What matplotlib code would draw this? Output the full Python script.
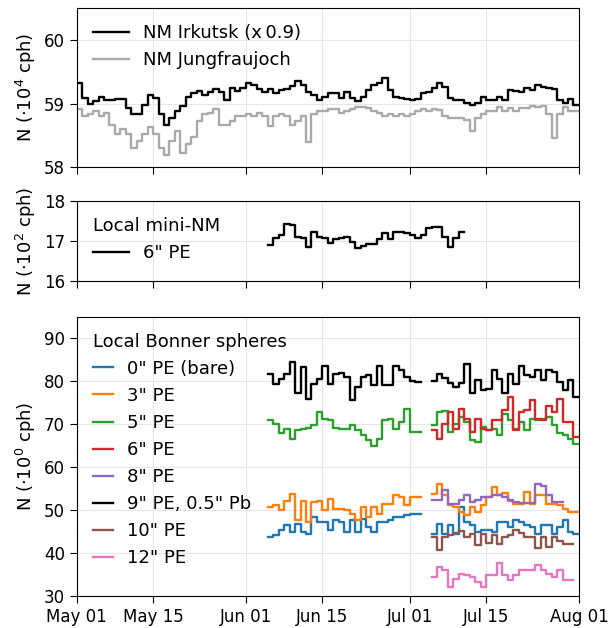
import datetime as dt

import numpy as np
import matplotlib
matplotlib.use("Agg")
import matplotlib.pyplot as plt
import matplotlib.dates as mdates

START = dt.datetime(2019, 5, 1)
END = dt.datetime(2019, 8, 1)

# daily values, panel 1 (starting May 01)
irkutsk = [59.32, 59.09, 59.0, 59.04, 59.1, 59.06, 59.05, 59.07, 59.07, 58.93,
           58.83, 58.83, 58.98, 59.14, 59.09, 58.83, 58.67, 58.78, 58.88, 58.96,
           59.11, 59.17, 59.2, 59.14, 59.19, 59.23, 59.19, 59.06, 59.24, 59.2,
           59.24, 59.32, 59.29, 59.23, 59.19, 59.23, 59.17, 59.22, 59.23, 59.27,
           59.35, 59.29, 59.19, 59.14, 59.05, 59.11, 59.17, 59.17, 59.09, 59.19,
           59.09, 59.04, 59.11, 59.22, 59.29, 59.32, 59.4, 59.22, 59.11, 59.09,
           59.08, 59.06, 59.08, 59.17, 59.19, 59.24, 59.32, 59.26, 59.09, 59.06,
           59.05, 59.01, 58.98, 59.01, 59.11, 59.06, 59.06, 59.11, 59.06, 59.22,
           59.2, 59.19, 59.24, 59.22, 59.3, 59.26, 59.24, 59.23, 59.06, 59.01,
           59.08, 58.98]
jungfraujoch = [58.91, 58.8, 58.83, 58.88, 58.8, 58.85, 58.67, 58.52, 58.6, 58.52,
                58.31, 58.41, 58.52, 58.63, 58.52, 58.31, 58.2, 58.41, 58.57, 58.23,
                58.36, 58.47, 58.72, 58.83, 58.85, 58.91, 58.67, 58.67, 58.72, 58.8,
                58.8, 58.83, 58.8, 58.85, 58.8, 58.65, 58.8, 58.83, 58.8, 58.67,
                58.72, 58.8, 58.39, 58.83, 58.88, 58.88, 58.91, 58.91, 58.85, 58.88,
                58.91, 58.94, 58.94, 58.93, 58.88, 58.85, 58.8, 58.83, 58.8, 58.84,
                58.8, 58.84, 58.88, 58.91, 58.88, 58.91, 58.9, 58.8, 58.78, 58.78,
                58.78, 58.75, 58.57, 58.78, 58.83, 58.88, 58.88, 58.94, 58.88, 58.93,
                58.88, 58.93, 58.93, 58.96, 58.94, 58.96, 58.83, 58.46, 58.83, 58.94,
                58.88, 58.88]

# panel 2, starts Jun 05
mini_nm_start = 35
mini_nm = [16.9, 17.07, 17.15, 17.42, 17.4, 17.1, 17.08, 16.86, 17.22, 17.1,
           17.08, 16.96, 17.04, 17.07, 17.09, 16.97, 16.83, 16.87, 16.92, 16.92,
           17.04, 17.19, 17.05, 17.23, 17.23, 17.19, 17.15, 17.07, 17.15, 17.32,
           17.36, 17.36, 17.1, 16.86, 17.08, 17.22]

# panel 3, two measurement periods
seg1_start = 35
seg2_start = 65
bs_labels = ['0" PE (bare)', '3" PE', '5" PE', '6" PE', '8" PE',
             '9" PE, 0.5" Pb', '10" PE', '12" PE']
bs_colors = ["tab:blue", "tab:orange", "tab:green", "tab:red", "tab:purple",
             "black", "tab:brown", "tab:pink"]

bs_seg1 = {
    '0" PE (bare)': [43.7, 44.1, 45.3, 46.4, 44.9, 46.8, 44.9, 44.5, 48.4, 47.2,
                     47.2, 45.3, 47.6, 47.2, 44.9, 47.6, 44.9, 48.0, 46.0, 44.9,
                     47.2, 47.2, 47.6, 48.4, 48.4, 48.8, 49.0, 49.0],
    '3" PE': [50.7, 51.1, 49.9, 52.2, 53.8, 47.6, 52.2, 47.2, 51.9, 52.2,
              49.9, 52.6, 50.3, 50.3, 49.9, 49.1, 47.6, 50.7, 48.4, 50.7,
              49.1, 51.5, 51.5, 53.4, 53.0, 51.1, 53.0, 53.0],
    '5" PE': [70.9, 70.1, 67.8, 68.9, 66.6, 68.5, 68.9, 69.1, 69.7, 72.8,
              71.2, 70.9, 69.1, 68.9, 68.9, 69.7, 68.7, 67.4, 66.2, 64.8,
              66.6, 70.9, 71.2, 68.9, 70.5, 73.6, 68.1, 68.1],
    '9" PE, 0.5" Pb': [81.7, 79.4, 80.5, 81.7, 84.4, 77.1, 83.3, 75.9, 79.4, 80.5,
                       83.6, 79.4, 81.7, 81.9, 80.9, 75.5, 78.6, 80.9, 81.3, 79.0,
                       83.6, 79.0, 79.0, 83.6, 82.5, 80.9, 80.0, 79.8],
}

bs_seg2 = {
    '0" PE (bare)': [44.5, 46.8, 44.5, 46.4, 44.5, 50.7, 47.2, 46.4, 44.9, 45.3,
                     45.3, 44.9, 47.2, 47.2, 46.0, 47.6, 47.2, 46.4, 46.0, 44.5,
                     46.4, 46.4, 44.5, 46.0, 47.6, 44.9, 44.5],
    '3" PE': [53.8, 56.0, 53.4, 51.1, 50.7, 49.5, 48.8, 50.7, 49.5, 51.1,
              53.0, 55.3, 53.4, 53.9, 52.2, 51.5, 51.5, 54.2, 51.5, 53.6,
              53.6, 51.5, 51.5, 51.1, 50.3, 49.5, 49.5],
    '5" PE': [69.7, 72.8, 73.0, 68.1, 70.1, 71.6, 70.5, 66.2, 65.8, 69.3,
              68.7, 68.9, 67.4, 72.4, 70.9, 68.9, 70.5, 68.5, 71.2, 70.9,
              71.2, 71.6, 69.7, 67.8, 67.4, 66.6, 65.4],
    '6" PE': [68.5, 66.6, 70.1, 72.8, 68.9, 73.6, 71.2, 68.1, 71.2, 68.9,
              68.5, 70.9, 70.9, 73.2, 76.3, 68.5, 72.8, 73.2, 75.5, 71.2,
              70.9, 74.3, 72.8, 75.7, 70.5, 70.5, 67.0],
    '8" PE': [52.4, 52.4, 54.6, 51.5, 51.5, 52.4, 53.4, 51.9, 52.4, 53.1,
              53.0, 53.6, 53.4, 53.0, 52.4, 51.9, 51.6, 51.6, 51.6, 56.0,
              55.5, 53.4, 51.9, 51.9],
    '9" PE, 0.5" Pb': [80.0, 81.7, 80.8, 79.5, 78.6, 79.5, 83.9, 77.1, 80.2, 78.0,
                       78.2, 82.5, 80.5, 77.1, 81.7, 79.4, 83.4, 81.3, 80.9, 82.6,
                       80.2, 82.5, 82.1, 79.8, 78.0, 80.3, 76.3],
    '10" PE': [43.7, 40.8, 43.7, 44.1, 44.6, 45.1, 43.7, 44.5, 41.8, 44.5,
               42.3, 44.1, 42.1, 43.7, 44.1, 45.3, 44.6, 43.7, 43.7, 41.2,
               43.7, 41.4, 43.7, 42.9, 42.0, 42.0],
    '12" PE': [34.4, 36.7, 36.0, 32.1, 34.0, 35.2, 34.8, 34.3, 33.2, 32.1,
               34.8, 34.8, 37.7, 34.8, 33.6, 34.8, 36.0, 36.0, 36.0, 37.2,
               36.0, 35.2, 34.4, 36.0, 33.8, 33.8],
}


def daily_steps(ax, first_day, vals, **kw):
    # step line with one value per day, closed at the end of the last day
    days = [START + dt.timedelta(days=first_day + i) for i in range(len(vals) + 1)]
    y = list(vals) + [vals[-1]]
    return ax.step(days, y, where="post", **kw)


fs = 13
fig = plt.figure(figsize=(6.11, 6.28), dpi=100)
ax1 = fig.add_axes([0.1255, 0.7336, 0.822, 0.2534])
ax2 = fig.add_axes([0.1255, 0.5525, 0.822, 0.1274])
ax3 = fig.add_axes([0.1255, 0.051, 0.822, 0.445])

lw = 1.7
daily_steps(ax1, 0, irkutsk, color="black", lw=lw, label="NM Irkutsk (x\u20090.9)")
daily_steps(ax1, 0, jungfraujoch, color="#aaaaaa", lw=lw, label="NM Jungfraujoch")
ax1.set_ylim(58, 60.5)
ax1.set_yticks([58, 59, 60])
ax1.set_ylabel(r"N ($\cdot10^4$ cph)", fontsize=fs)
ax1.legend(loc="upper left", frameon=False, fontsize=fs)

daily_steps(ax2, mini_nm_start, mini_nm, color="black", lw=lw, label='6" PE')
ax2.set_ylim(16, 18)
ax2.set_yticks([16, 17, 18])
ax2.set_ylabel(r"N ($\cdot10^2$ cph)", fontsize=fs)
ax2.legend(loc="upper left", frameon=False, fontsize=fs, title="Local mini-NM",
           title_fontsize=fs, alignment="left")

for lab, col in zip(bs_labels, bs_colors):
    line = None
    if lab in bs_seg1:
        line = daily_steps(ax3, seg1_start, bs_seg1[lab], color=col, lw=lw)[0]
    if lab in bs_seg2:
        line = daily_steps(ax3, seg2_start, bs_seg2[lab], color=col, lw=lw)[0]
    line.set_label(lab)
ax3.set_ylim(30, 95)
ax3.set_yticks(np.arange(30, 91, 10))
ax3.set_ylabel(r"N ($\cdot10^0$ cph)", fontsize=fs)
ax3.legend(loc="upper left", frameon=False, fontsize=fs, title="Local Bonner spheres",
           title_fontsize=fs, handlelength=1.1, alignment="left")

ticks = [dt.datetime(2019, m, d) for m, d in [(5, 1), (5, 15), (6, 1), (6, 15),
                                                (7, 1), (7, 15), (8, 1)]]
for ax in (ax1, ax2, ax3):
    ax.set_xlim(START, END)
    ax.set_xticks(ticks)
    ax.xaxis.set_major_formatter(mdates.DateFormatter("%b %d"))
    ax.grid(True, color="#e6e6e6", lw=0.8)
    ax.set_axisbelow(True)
    ax.tick_params(labelsize=12, length=5)
ax1.set_xticklabels([])
ax2.set_xticklabels([])
fig.align_ylabels([ax1, ax2, ax3])

fig.savefig("out.png", dpi=100)
